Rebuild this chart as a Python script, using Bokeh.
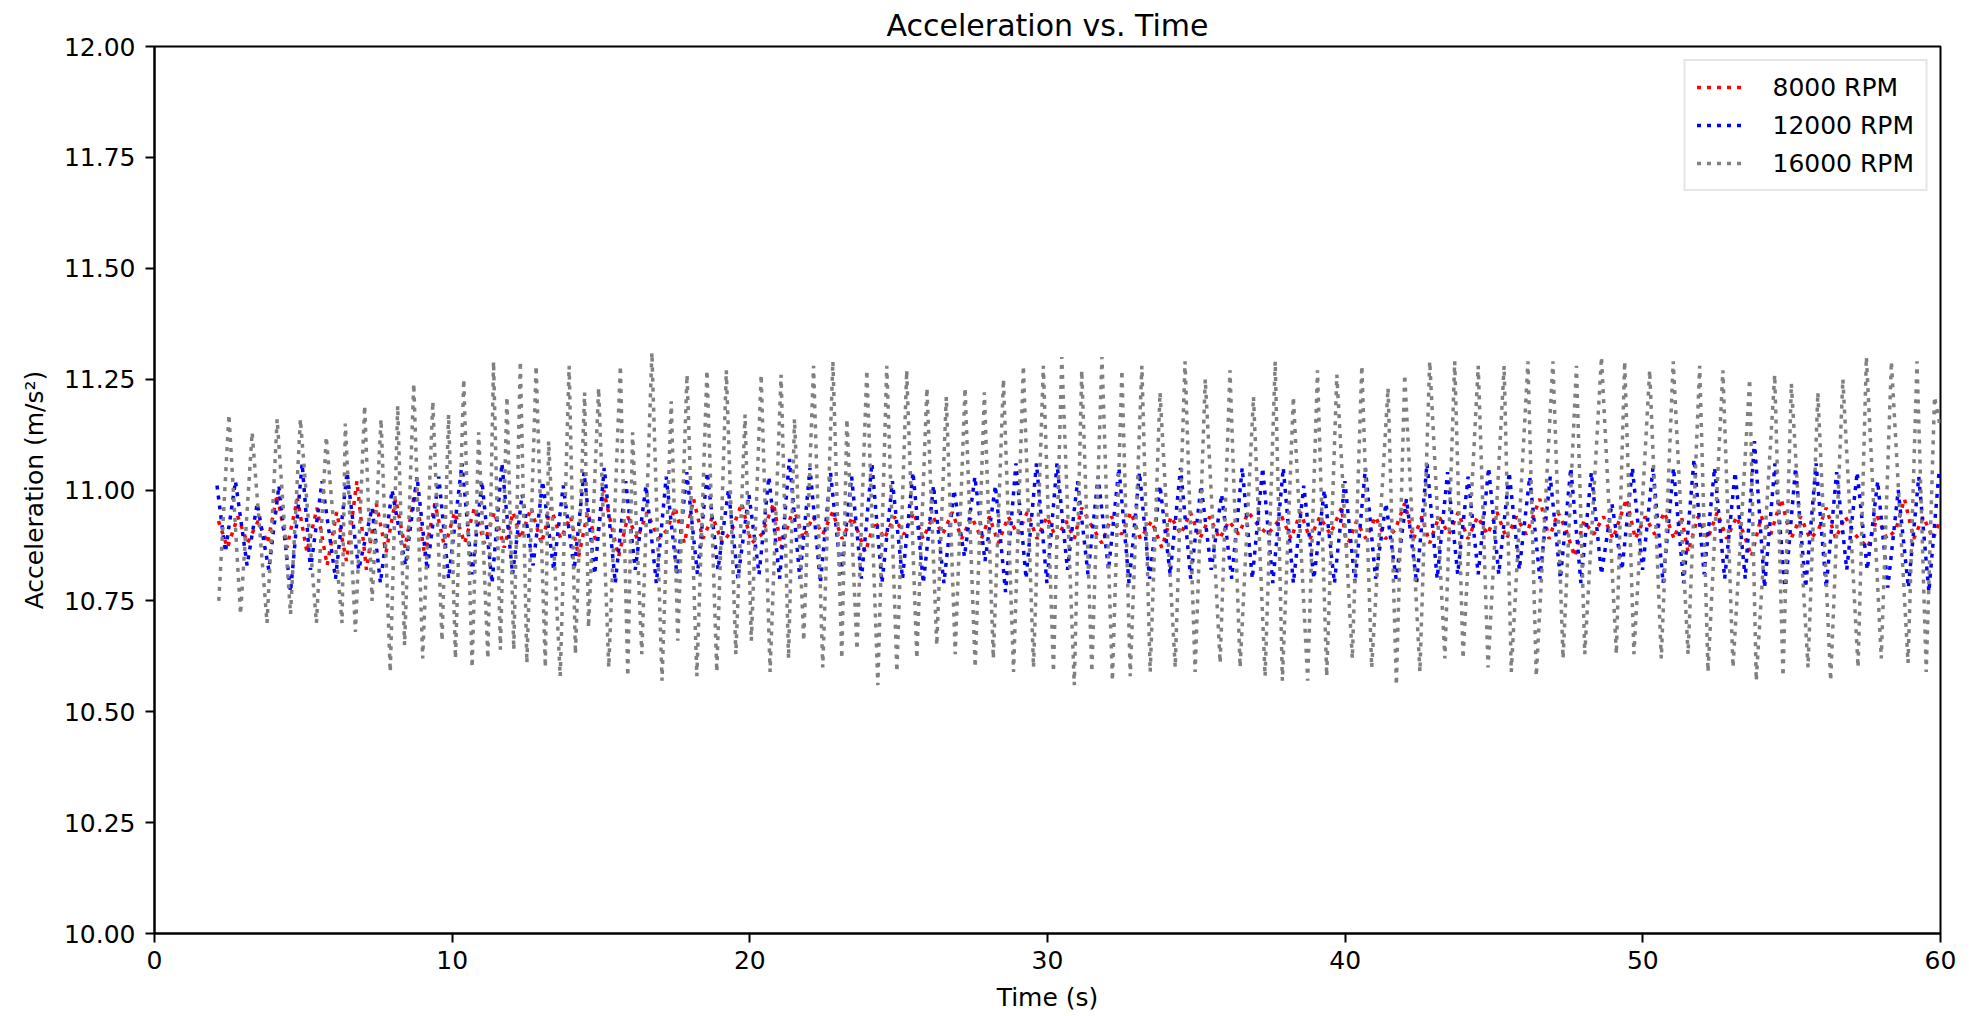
from bokeh.plotting import figure
from bokeh.models import Range1d, FixedTicker, PrintfTickFormatter
from bokeh.embed import file_html
from bokeh.resources import INLINE

# ---------------- data ----------------
series_labels = ["8000 RPM", "12000 RPM", "16000 RPM"]
x_ticks = [0, 10, 20, 30, 40, 50, 60]
y_ticks = [10.0, 10.25, 10.5, 10.75, 11.0, 11.25, 11.5, 11.75, 12.0]

red_time = [
    2.15, 2.45, 2.80, 3.12, 3.48, 3.80, 4.12, 4.45, 4.80, 5.12,
    5.46, 5.80, 6.12, 6.45, 6.80, 7.12, 7.45, 7.78, 8.10, 8.42,
    8.76, 9.08, 9.42, 9.75, 10.08, 10.42, 10.75, 11.08, 11.42, 11.75,
    12.05, 12.30, 12.65, 13.00, 13.32, 13.65, 13.98, 14.25, 14.55, 14.85,
    15.09, 15.35, 15.59, 15.90, 16.22, 16.55, 16.93, 17.22, 17.49, 17.80,
    18.11, 18.42, 18.75, 19.08, 19.40, 19.73, 20.05, 20.40, 20.80, 21.05,
    21.47, 21.80, 22.12, 22.45, 22.78, 23.10, 23.45, 23.88, 24.20, 24.52,
    24.85, 25.18, 25.50, 25.82, 26.15, 26.48, 26.80, 27.12, 27.45, 27.78,
    28.05, 28.35, 28.68, 29.00, 29.32, 29.65, 29.98, 30.30, 30.62, 30.90,
    31.15, 31.48, 31.83, 32.15, 32.48, 32.80, 33.12, 33.50, 33.84, 34.15,
    34.48, 34.80, 35.12, 35.45, 35.78, 36.10, 36.42, 36.75, 37.08, 37.40,
    37.87, 38.18, 38.50, 38.82, 39.15, 39.50, 39.88, 40.05, 40.38, 40.70,
    41.02, 41.35, 41.68, 42.00, 42.30, 42.58, 42.84, 43.15, 43.48, 43.80,
    44.12, 44.45, 44.78, 45.10, 45.42, 45.75, 46.08, 46.54, 46.85, 47.15,
    47.42, 47.71, 48.02, 48.35, 48.68, 49.00, 49.45, 49.75, 50.08, 50.40,
    50.72, 51.05, 51.30, 51.52, 51.85, 52.18, 52.50, 52.82, 53.15, 53.40,
    53.65, 53.98, 54.30, 54.65, 54.98, 55.30, 55.62, 55.90, 56.16, 56.48,
    56.80, 57.12, 57.56, 57.88, 58.20, 58.50, 58.79, 59.10, 59.42, 59.75,
    59.98,
]
red_accel = [
    10.93, 10.87, 10.94, 10.88, 10.93, 10.88, 10.99, 10.87, 10.98, 10.86,
    10.96, 10.83, 10.95, 10.84, 11.02, 10.82, 10.97, 10.86, 10.98, 10.87,
    11.00, 10.85, 10.97, 10.87, 10.95, 10.88, 10.96, 10.88, 10.95, 10.87,
    10.95, 10.89, 10.96, 10.88, 10.96, 10.89, 10.94, 10.85, 10.95, 10.88,
    11.00, 10.92, 10.85, 10.94, 10.89, 10.95, 10.89, 10.91, 10.96, 10.88,
    10.98, 10.89, 10.94, 10.88, 10.91, 10.97, 10.88, 10.90, 10.97, 10.87,
    10.96, 10.89, 10.94, 10.90, 10.95, 10.89, 10.94, 10.86, 10.93, 10.89,
    10.94, 10.90, 10.95, 10.89, 10.94, 10.90, 10.95, 10.89, 10.94, 10.89,
    10.94, 10.88, 10.94, 10.90, 10.95, 10.89, 10.94, 10.89, 10.93, 10.89,
    10.96, 10.92, 10.88, 10.94, 10.90, 10.95, 10.89, 10.93, 10.87, 10.94,
    10.90, 10.95, 10.89, 10.94, 10.89, 10.93, 10.90, 10.95, 10.92, 10.90,
    10.94, 10.89, 10.95, 10.89, 10.94, 10.90, 10.96, 10.87, 10.93, 10.89,
    10.94, 10.89, 10.91, 10.97, 10.89, 10.94, 10.88, 10.94, 10.90, 10.95,
    10.89, 10.94, 10.90, 10.95, 10.89, 10.94, 10.90, 10.98, 10.89, 10.95,
    10.91, 10.85, 10.93, 10.90, 10.94, 10.89, 10.98, 10.89, 10.94, 10.90,
    10.95, 10.89, 10.94, 10.86, 10.94, 10.89, 10.95, 10.89, 10.94, 10.90,
    10.85, 10.94, 10.90, 10.98, 10.89, 10.94, 10.89, 10.91, 10.96, 10.89,
    10.94, 10.90, 10.87, 10.94, 10.89, 10.91, 10.98, 10.89, 10.94, 10.89,
    10.93,
]

blue_time = [
    2.10, 2.38, 2.72, 3.11, 3.45, 3.84, 4.18, 4.57, 4.96, 5.24,
    5.63, 6.08, 6.47, 6.86, 7.31, 7.59, 7.98, 8.43, 8.82, 9.16,
    9.55, 9.88, 10.33, 10.67, 11.00, 11.34, 11.67, 12.03, 12.35, 12.72,
    13.04, 13.41, 13.73, 14.10, 14.43, 14.79, 15.11, 15.48, 15.83, 16.15,
    16.51, 16.86, 17.19, 17.55, 17.88, 18.24, 18.57, 18.93, 19.28, 19.60,
    19.97, 20.31, 20.64, 21.00, 21.33, 21.68, 22.02, 22.37, 22.71, 23.06,
    23.42, 23.75, 24.10, 24.44, 24.79, 25.13, 25.48, 25.83, 26.17, 26.52,
    26.86, 27.21, 27.56, 27.90, 28.25, 28.59, 28.94, 29.28, 29.63, 29.98,
    30.32, 30.67, 31.01, 31.36, 31.70, 32.05, 32.40, 32.74, 33.09, 33.43,
    33.78, 34.12, 34.47, 34.81, 35.16, 35.50, 35.85, 36.19, 36.54, 36.88,
    37.23, 37.57, 37.92, 38.26, 38.61, 38.95, 39.30, 39.64, 39.99, 40.33,
    40.68, 41.02, 41.37, 41.71, 42.06, 42.40, 42.75, 43.09, 43.44, 43.78,
    44.13, 44.47, 44.82, 45.16, 45.51, 45.85, 46.20, 46.54, 46.89, 47.23,
    47.58, 47.92, 48.27, 48.61, 48.96, 49.30, 49.65, 49.99, 50.34, 50.68,
    51.03, 51.37, 51.72, 52.06, 52.41, 52.75, 53.10, 53.44, 53.75, 54.09,
    54.44, 54.78, 55.13, 55.47, 55.82, 56.16, 56.51, 56.85, 57.20, 57.54,
    57.89, 58.23, 58.58, 58.92, 59.27, 59.61, 59.95,
]
blue_accel = [
    11.01, 10.86, 11.02, 10.83, 10.97, 10.82, 11.01, 10.77, 11.06, 10.82,
    11.02, 10.80, 11.04, 10.82, 10.96, 10.79, 11.00, 10.83, 11.03, 10.82,
    11.03, 10.80, 11.06, 10.81, 11.02, 10.79, 11.06, 10.81, 10.99, 10.83,
    11.02, 10.82, 11.01, 10.82, 11.04, 10.81, 11.05, 10.79, 11.02, 10.82,
    11.01, 10.79, 11.03, 10.81, 11.04, 10.81, 11.04, 10.82, 11.00, 10.80,
    10.99, 10.81, 11.03, 10.80, 11.07, 10.80, 11.05, 10.79, 11.04, 10.81,
    11.03, 10.80, 11.06, 10.79, 11.02, 10.80, 11.04, 10.79, 11.01, 10.79,
    11.00, 10.85, 11.03, 10.84, 11.01, 10.77, 11.06, 10.80, 11.06, 10.79,
    11.06, 10.82, 11.02, 10.81, 11.03, 10.82, 11.05, 10.79, 11.04, 10.80,
    11.01, 10.81, 11.05, 10.80, 11.01, 10.82, 10.99, 10.80, 11.05, 10.80,
    11.05, 10.79, 11.05, 10.79, 11.01, 10.80, 11.00, 10.79, 11.02, 10.79,
    11.05, 10.80, 10.97, 10.80, 10.98, 10.79, 11.06, 10.80, 11.04, 10.81,
    11.03, 10.81, 11.05, 10.81, 11.04, 10.82, 11.03, 10.80, 11.03, 10.80,
    11.05, 10.79, 11.04, 10.81, 10.97, 10.82, 11.05, 10.82, 11.05, 10.79,
    11.05, 10.79, 11.07, 10.81, 11.05, 10.80, 11.04, 10.80, 11.11, 10.78,
    11.06, 10.77, 11.05, 10.78, 11.06, 10.78, 11.04, 10.82, 11.04, 10.82,
    11.02, 10.78, 11.00, 10.78, 11.03, 10.77, 11.04,
]

gray_time = [
    2.16, 2.50, 2.89, 3.28, 3.78, 4.12, 4.57, 4.90, 5.44, 5.77,
    6.30, 6.41, 6.75, 7.06, 7.31, 7.61, 7.92, 8.17, 8.40, 8.71,
    9.01, 9.35, 9.66, 9.88, 10.11, 10.39, 10.67, 10.89, 11.20, 11.39,
    11.62, 11.84, 12.07, 12.29, 12.51, 12.82, 13.13, 13.24, 13.63, 13.93,
    14.14, 14.45, 14.58, 14.92, 15.26, 15.65, 15.90, 16.06, 16.37, 16.71,
    17.05, 17.36, 17.58, 17.89, 18.22, 18.56, 18.89, 19.21, 19.53, 19.84,
    20.05, 20.38, 20.68, 21.05, 21.30, 21.50, 21.81, 22.14, 22.45, 22.79,
    23.09, 23.26, 23.60, 23.93, 24.30, 24.60, 24.94, 25.27, 25.61, 25.95,
    26.28, 26.60, 26.90, 27.23, 27.57, 27.88, 28.18, 28.52, 28.86, 29.19,
    29.53, 29.86, 30.20, 30.48, 30.90, 31.15, 31.49, 31.83, 32.18, 32.50,
    32.78, 33.17, 33.45, 33.78, 34.29, 34.62, 34.96, 35.30, 35.80, 36.13,
    36.47, 36.92, 37.31, 37.65, 37.89, 38.26, 38.74, 39.07, 39.38, 39.72,
    40.24, 40.56, 40.89, 41.44, 41.72, 42.00, 42.51, 42.84, 43.35, 43.68,
    43.96, 44.47, 44.80, 45.34, 45.58, 46.14, 46.42, 46.98, 47.32, 47.77,
    48.05, 48.61, 49.11, 49.39, 49.70, 50.23, 50.62, 51.02, 51.52, 51.91,
    52.19, 52.69, 53.03, 53.59, 53.81, 54.43, 54.71, 54.99, 55.55, 55.88,
    56.31, 56.72, 57.23, 57.51, 58.01, 58.35, 58.91, 59.21, 59.52, 59.80,
    59.97,
]
gray_accel = [
    10.75, 11.17, 10.72, 11.13, 10.70, 11.16, 10.72, 11.16, 10.70, 11.12,
    10.70, 11.15, 10.68, 11.19, 10.75, 11.16, 10.59, 11.19, 10.65, 11.24,
    10.62, 11.20, 10.66, 11.17, 10.62, 11.25, 10.60, 11.13, 10.62, 11.29,
    10.64, 11.21, 10.64, 11.29, 10.61, 11.28, 10.60, 11.11, 10.58, 11.28,
    10.63, 11.22, 10.69, 11.23, 10.60, 11.28, 10.58, 11.13, 10.63, 11.31,
    10.57, 11.20, 10.66, 11.26, 10.58, 11.27, 10.59, 11.27, 10.63, 11.17,
    10.66, 11.26, 10.59, 11.26, 10.62, 11.16, 10.66, 11.28, 10.60, 11.29,
    10.62, 11.16, 10.64, 11.27, 10.56, 11.28, 10.59, 11.27, 10.62, 11.23,
    10.65, 11.21, 10.63, 11.23, 10.60, 11.22, 10.62, 11.25, 10.59, 11.28,
    10.60, 11.28, 10.59, 11.30, 10.56, 11.27, 10.59, 11.30, 10.57, 11.27,
    10.58, 11.28, 10.59, 11.22, 10.60, 11.29, 10.59, 11.25, 10.61, 11.27,
    10.60, 11.21, 10.58, 11.29, 10.57, 11.21, 10.57, 11.27, 10.58, 11.26,
    10.62, 11.28, 10.60, 11.23, 10.56, 11.26, 10.59, 11.29, 10.62, 11.29,
    10.62, 11.28, 10.60, 11.28, 10.59, 11.29, 10.58, 11.29, 10.62, 11.28,
    10.63, 11.30, 10.63, 11.29, 10.63, 11.27, 10.62, 11.29, 10.63, 11.28,
    10.59, 11.27, 10.60, 11.25, 10.57, 11.26, 10.58, 11.24, 10.60, 11.22,
    10.57, 11.25, 10.60, 11.30, 10.62, 11.29, 10.61, 11.29, 10.59, 11.21,
    11.15,
]

assert len(red_time) == len(red_accel)
assert len(blue_time) == len(blue_accel)
assert len(gray_time) == len(gray_accel)

# ---------------- figure ----------------
FONT = "DejaVu Sans"
p = figure(
    width=1969, height=1016,
    output_backend="svg", toolbar_location=None,
    x_range=Range1d(0, 60), y_range=Range1d(10, 12),
    min_border_left=154, min_border_right=29,
    min_border_top=46, min_border_bottom=83,
    title="Acceleration vs. Time",
    x_axis_label="Time (s)", y_axis_label="Acceleration (m/s²)",
    background_fill_color="white", border_fill_color="white",
)
p.title.align = "center"
p.title.text_font = FONT
p.title.text_font_size = "30px"
p.title.text_font_style = "normal"
p.title.text_color = "black"
p.title.standoff = 8

p.xgrid.visible = False
p.ygrid.visible = False
p.outline_line_color = "black"
p.outline_line_width = 2
p.outline_line_alpha = 1.0

p.xaxis.ticker = FixedTicker(ticks=x_ticks)
p.yaxis.ticker = FixedTicker(ticks=y_ticks)
p.yaxis.formatter = PrintfTickFormatter(format="%.2f")
for ax in (p.xaxis[0], p.yaxis[0]):
    ax.axis_line_color = "black"
    ax.axis_line_width = 2
    ax.major_tick_line_color = "black"
    ax.major_tick_line_width = 2
    ax.major_tick_out = 9
    ax.major_tick_in = 0
    ax.minor_tick_out = 0
    ax.minor_tick_in = 0
    ax.major_label_text_font = FONT
    ax.major_label_text_font_size = "25px"
    ax.major_label_text_color = "black"
    ax.axis_label_text_font = FONT
    ax.axis_label_text_font_size = "25px"
    ax.axis_label_text_font_style = "normal"
    ax.axis_label_text_color = "black"
p.xaxis.major_label_standoff = 8
p.xaxis.axis_label_standoff = 11
p.yaxis.major_label_standoff = 10
p.yaxis.axis_label_standoff = 12

DASH = "4 6"
LW = 3.5
p.line(red_time, red_accel, line_color="#ff0000", line_width=LW, line_dash=DASH,
       legend_label=series_labels[0])
p.line(blue_time, blue_accel, line_color="#0000ff", line_width=LW, line_dash=DASH,
       legend_label=series_labels[1])
p.line(gray_time, gray_accel, line_color="#808080", line_width=LW, line_dash=DASH,
       legend_label=series_labels[2])

lg = p.legend[0]
lg.location = "top_right"
lg.margin = 13
lg.padding = 11
lg.spacing = 8
lg.glyph_width = 50
lg.glyph_height = 30
lg.label_height = 30
lg.label_standoff = 26
lg.label_text_font = FONT
lg.label_text_font_size = "25px"
lg.label_text_color = "black"
lg.border_line_color = "#cccccc"
lg.border_line_width = 2
lg.background_fill_color = "white"
lg.background_fill_alpha = 0.8

open("out.html", "w").write(file_html(p, INLINE))
